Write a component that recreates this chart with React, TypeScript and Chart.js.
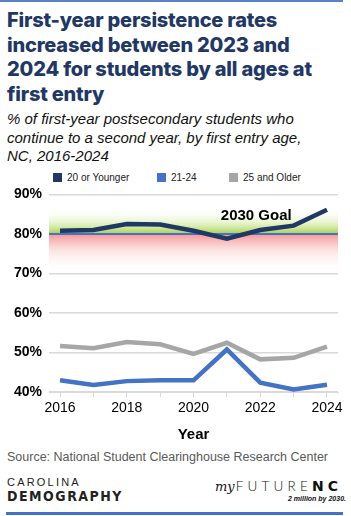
import React, { useEffect, useRef } from "react";
import { Chart, registerables } from "chart.js";

Chart.register(...registerables);

const YEARS = [2016, 2017, 2018, 2019, 2020, 2021, 2022, 2023, 2024];
const AGE_20_OR_YOUNGER = [80.8, 81.0, 82.5, 82.4, 80.8, 78.8, 81.0, 82.1, 86.1];
const AGE_21_24 = [43.0, 41.8, 42.8, 43.0, 43.0, 50.8, 42.4, 40.7, 41.9];
const AGE_25_AND_OLDER = [51.7, 51.1, 52.7, 52.1, 49.7, 52.5, 48.3, 48.7, 51.5];
const SERIES_NAMES = ["20 or Younger", "21-24", "25 and Older"];
const SERIES_COLORS = ["#1f3864", "#4472c4", "#a6a6a6"];
const GOAL = 80;
const GOAL_LABEL = "2030 Goal";
const GOAL_LABEL_POS = { x: 2021.88, y: 84.5 };
const Y_TICKS = [40, 50, 60, 70, 80, 90];

const TITLE_LINES = [
  "First-year persistence rates",
  "increased between 2023 and",
  "2024 for students by all ages at",
  "first entry",
];
const SUBTITLE_LINES = [
  "% of first-year postsecondary students who",
  "continue to a second year, by first entry age,",
  "NC, 2016-2024",
];
const SOURCE = "Source: National Student Clearinghouse Research Center";

const goalPlugin = {
  id: "goalBand",
  beforeDatasetsDraw(chart: any) {
    const { ctx, chartArea, scales } = chart;
    const y = scales.y;
    const yGoal = y.getPixelForValue(GOAL);
    const yTop = y.getPixelForValue(GOAL + 6.5);
    const yBot = y.getPixelForValue(GOAL - 10);
    ctx.save();
    const g1 = ctx.createLinearGradient(0, yGoal, 0, yTop);
    g1.addColorStop(0, "rgba(160,205,70,0.95)");
    g1.addColorStop(0.35, "rgba(200,228,140,0.6)");
    g1.addColorStop(1, "rgba(255,255,255,0)");
    ctx.fillStyle = g1;
    ctx.fillRect(chartArea.left, yTop, chartArea.right - chartArea.left, yGoal - yTop);
    const g2 = ctx.createLinearGradient(0, yGoal, 0, yBot);
    g2.addColorStop(0, "rgba(244,130,130,0.85)");
    g2.addColorStop(0.45, "rgba(250,200,200,0.45)");
    g2.addColorStop(1, "rgba(255,255,255,0)");
    ctx.fillStyle = g2;
    ctx.fillRect(chartArea.left, yGoal, chartArea.right - chartArea.left, yBot - yGoal);
    ctx.strokeStyle = "#4472c4";
    ctx.lineWidth = 2;
    ctx.beginPath();
    ctx.moveTo(chartArea.left, yGoal);
    ctx.lineTo(chartArea.right, yGoal);
    ctx.stroke();
    ctx.fillStyle = "#000";
    ctx.font = "bold 15px 'Liberation Sans', Arial, sans-serif";
    ctx.textAlign = "center";
    ctx.textBaseline = "middle";
    ctx.fillText(GOAL_LABEL, scales.x.getPixelForValue(GOAL_LABEL_POS.x), y.getPixelForValue(GOAL_LABEL_POS.y));
    ctx.restore();
  },
};

function ChartCanvas() {
  const ref = useRef<HTMLCanvasElement | null>(null);
  useEffect(() => {
    if (!ref.current) return;
    const seriesValues = [AGE_20_OR_YOUNGER, AGE_21_24, AGE_25_AND_OLDER];
    const chart = new Chart(ref.current, {
      type: "line",
      data: {
        datasets: seriesValues.map((vals, i) => ({
          label: SERIES_NAMES[i],
          data: YEARS.map((yr, j) => ({ x: yr, y: vals[j] })),
          borderColor: SERIES_COLORS[i],
          backgroundColor: SERIES_COLORS[i],
          borderWidth: 4.5,
          pointRadius: 0,
          tension: 0,
          order: 3 - i,
        })),
      },
      options: {
        responsive: false,
        animation: false,
        layout: { padding: { left: 7, right: 13, top: 0, bottom: 0 } },
        plugins: {
          legend: { display: false },
          tooltip: { enabled: false },
        },
        scales: {
          x: {
            type: "linear",
            min: 2015.67,
            max: 2024.33,
            afterBuildTicks: (scale: any) => {
              scale.ticks = YEARS.map((v) => ({ value: v }));
            },
            ticks: {
              autoSkip: false,
              maxRotation: 0,
              padding: 3,
              color: "#000",
              font: { family: "'Liberation Sans', Arial, sans-serif", size: 14 },
              callback: (v: any) => (Number(v) % 2 === 0 ? String(v) : ""),
            },
            grid: { drawOnChartArea: false, drawTicks: true, tickLength: 5, color: "#d9d9d9" },
            border: { display: true, color: "#d9d9d9" },
            title: {
              display: true,
              text: "Year",
              color: "#000",
              font: { family: "'Liberation Sans', Arial, sans-serif", size: 15, weight: "bold" },
              padding: { top: 6, bottom: 2 },
            },
          },
          y: {
            min: 40,
            max: 90,
            afterBuildTicks: (scale: any) => {
              scale.ticks = Y_TICKS.map((v) => ({ value: v }));
            },
            ticks: {
              padding: 7,
              color: "#000",
              font: { family: "'Liberation Sans', Arial, sans-serif", size: 14, weight: "bold" },
              callback: (v: any) => v + "%",
            },
            grid: { color: "#d9d9d9", lineWidth: 1.5, drawTicks: false },
            border: { display: false },
          },
        },
      },
      plugins: [goalPlugin],
    } as any);
    return () => chart.destroy();
  }, []);
  return <canvas ref={ref} width={351} height={267} style={{ position: "absolute", left: 0, top: 179, width: 351, height: 267 }} />;
}

export default function App() {
  const sans = "'Liberation Sans', Arial, sans-serif";
  return (
    <div style={{ position: "absolute", left: 0, top: 0, width: 351, height: 516, background: "#fff", overflow: "hidden", fontFamily: sans }}>
      <div style={{ position: "absolute", left: 0, top: 0, width: 343, height: 2, background: "#5b80c8" }} />
      <div style={{ position: "absolute", left: 7, top: 8, fontFamily: "Inter, sans-serif", fontWeight: 800, fontSize: 20, lineHeight: "24.5px", letterSpacing: -0.2, color: "#1f3864", whiteSpace: "nowrap" }}>
        {TITLE_LINES.map((l) => (
          <div key={l}>{l}</div>
        ))}
      </div>
      <div style={{ position: "absolute", left: 7, top: 110, fontStyle: "italic", fontSize: 15, lineHeight: "18.7px", color: "#111", whiteSpace: "nowrap" }}>
        {SUBTITLE_LINES.map((l) => (
          <div key={l}>{l}</div>
        ))}
      </div>
      {SERIES_NAMES.map((name, i) => {
        const left = [53, 157, 229][i];
        return (
          <div key={name} style={{ position: "absolute", left, top: 171, height: 12, display: "flex", alignItems: "center", fontSize: 10, color: "#222" }}>
            <span style={{ display: "inline-block", width: 9, height: 9, background: SERIES_COLORS[i], marginRight: 5 }} />
            <span>{name}</span>
          </div>
        );
      })}
      <ChartCanvas />
      <div style={{ position: "absolute", left: 7, top: 450, fontSize: 12.5, color: "#595959", whiteSpace: "nowrap" }}>{SOURCE}</div>
      <div style={{ position: "absolute", left: 7, top: 476, fontSize: 11, letterSpacing: 2.2, color: "#222", fontWeight: 300, whiteSpace: "nowrap", lineHeight: "13px" }}>CAROLINA</div>
      <div style={{ position: "absolute", left: 7, top: 488, fontFamily: "'DejaVu Sans Condensed', 'DejaVu Sans', sans-serif", fontWeight: "bold", fontSize: 14, letterSpacing: 1.5, color: "#222", whiteSpace: "nowrap", lineHeight: "16px" }}>DEMOGRAPHY</div>
      <div style={{ position: "absolute", left: 215, top: 479, whiteSpace: "nowrap", lineHeight: "14px", color: "#111" }}>
        <span style={{ fontFamily: "'DejaVu Serif', serif", fontStyle: "italic", fontSize: 13, marginRight: 1 }}>my</span>
        <span style={{ fontFamily: "Lato, sans-serif", fontWeight: 300, fontSize: 13.5, letterSpacing: 4.2 }}>FUTURE</span>
        <span style={{ fontFamily: "'DejaVu Sans', sans-serif", fontWeight: "bold", fontSize: 14, letterSpacing: 4 }}>NC</span>
      </div>
      <div style={{ position: "absolute", left: 288, top: 495, fontSize: 7, fontStyle: "italic", fontWeight: "bold", whiteSpace: "nowrap", color: "#111" }}>2 million by 2030.</div>
      <div style={{ position: "absolute", left: 6, top: 512, width: 337, height: 3, background: "#4472c4" }} />
    </div>
  );
}
